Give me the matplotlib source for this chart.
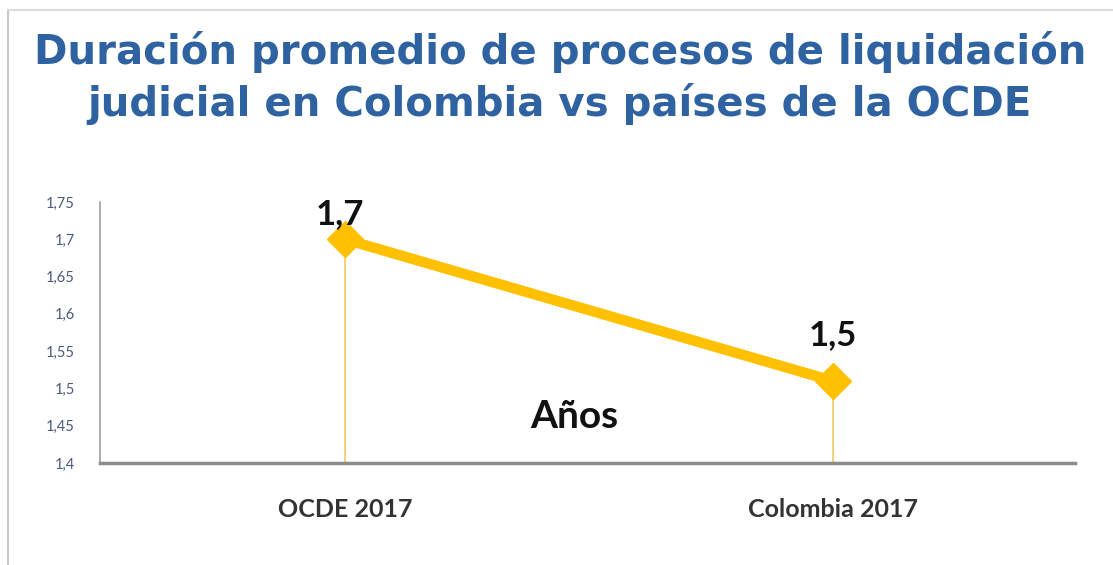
import matplotlib
matplotlib.use("Agg")
import matplotlib.pyplot as plt
from matplotlib.lines import Line2D

categories = ["OCDE 2017", "Colombia 2017"]
values = [1.70, 1.51]
value_labels = ["1,7", "1,5"]
yticks = [1.4, 1.45, 1.5, 1.55, 1.6, 1.65, 1.7, 1.75]
ytick_labels = ["1,4", "1,45", "1,5", "1,55", "1,6", "1,65", "1,7", "1,75"]
title = "Duración promedio de procesos de liquidación\njudicial en Colombia vs países de la OCDE"
series_label = "Años"

fig = plt.figure(figsize=(11.13, 5.65), dpi=100)
fig.patch.set_facecolor("white")

# frame lines of the picture
fig.add_artist(Line2D([8/1113, 8/1113], [0, 1 - 10/565], transform=fig.transFigure, color="#c8c8c8", lw=1.5))
fig.add_artist(Line2D([8/1113, 1], [1 - 10/565, 1 - 10/565], transform=fig.transFigure, color="#dcdcdc", lw=1.5))

fig.text(0.503, 1 - 78/565, title, ha="center", va="center", color="#2F62A0",
         fontsize=29, fontweight="bold", family="DejaVu Sans", linespacing=1.28)

ax = fig.add_axes([100/1113, 1 - 463/565, (1075 - 100)/1113, (463 - 202)/565])
x = list(range(len(categories)))
ax.vlines(x, 1.4, values, color="#F3D27A", lw=1.5, zorder=1)
ax.plot(x, values, color="#FFC000", lw=7.5, marker="D", markersize=18, zorder=3)
ax.set_xlim(-0.502, 1.496)
ax.set_ylim(1.4, 1.75)
ax.set_yticks(yticks)
ax.set_yticklabels(ytick_labels, fontsize=10.5, color="#4a5a7a", family="Lato")
ax.set_xticks(x)
ax.set_xticklabels(categories, fontsize=18, fontweight="bold", color="#333333", family="Lato")
ax.tick_params(axis="both", length=0)
ax.tick_params(axis="y", pad=18)
ax.tick_params(axis="x", pad=25)
for s in ["top", "right"]:
    ax.spines[s].set_visible(False)
ax.spines["left"].set_color("#a0a0a0")
ax.spines["left"].set_linewidth(1.2)
ax.spines["bottom"].set_color("#8c8c8c")
ax.spines["bottom"].set_linewidth(2.5)

offsets = [(-4, 0.034), (0, 0.062)]
for xi, v, lab, (dx, dy) in zip(x, values, value_labels, offsets):
    ax.annotate(lab, (xi, v + dy), xytext=(dx, 0), textcoords="offset points",
                ha="center", va="center", fontsize=25, fontweight="bold",
                color="#111111", family="Lato")

ax.text(0.469, 1.462, series_label, ha="center", va="center", fontsize=28,
        fontweight="bold", color="#111111", family="Lato")

fig.savefig("out.png", dpi=100)
